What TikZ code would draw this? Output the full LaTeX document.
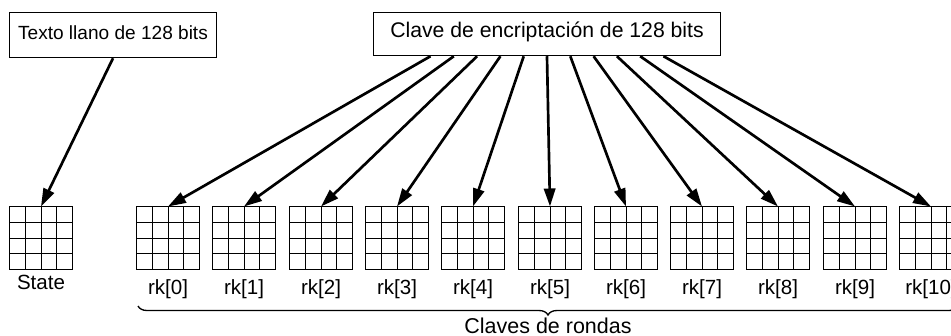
\documentclass[tikz,border=0pt]{standalone}
\usepackage{fontspec}
\setmainfont{Liberation Sans}
\usetikzlibrary{arrows.meta,calc,decorations.pathreplacing}
\begin{document}
\begin{tikzpicture}[x=0.75pt,y=-0.75pt,
  box/.style={draw, line width=1.1pt, inner sep=0pt},
  gridbox/.style={draw, line width=1pt, minimum size=47.25pt, inner sep=0pt, outer sep=0pt},
  cellline/.style={line width=1pt},
  arr/.style={line width=2pt, -{Triangle[length=13.5pt,width=8.5pt]}},
  lbl/.style={font=\fontsize{15.4}{18}\selectfont, anchor=base, inner sep=0pt}]
\useasboundingbox (0,0) rectangle (951,336);
\clip (0,0) rectangle (951,336);
\node[box, minimum width=155.25pt, minimum height=33.75pt, text height=10.5pt, text depth=4.5pt,
      font=\fontsize{14.3}{17}\selectfont] (plain) at (113,35) {Texto llano de 128 bits};
\node[box, minimum width=260.25pt, minimum height=32.25pt, text height=11.25pt, text depth=6.75pt,
      font=\fontsize{15.9}{19}\selectfont] (key) at (547,34) {Clave de encriptación de 128 bits};
\node[gridbox] (st) at (41,238) {};
\foreach \i/\cx in {0/168,1/244,2/321,3/397,4/473,5/550,6/626,7/702,8/778,9/855,10/931} {
  \node[gridbox] (g\i) at (\cx,238) {};
  \node[lbl] (l\i) at (\cx,294) {rk[\i]};
}
\foreach \nm in {st,g0,g1,g2,g3,g4,g5,g6,g7,g8,g9,g10} {
  \foreach \d in {16,32,47} {
    \draw[cellline] ($(\nm.north west)+(\d,0)$) -- ($(\nm.south west)+(\d,0)$);
    \draw[cellline] ($(\nm.north west)+(0,\d)$) -- ($(\nm.north east)+(0,\d)$);
  }
}
\node[lbl] (lst) at (41,289) {State};
\draw[arr] (plain.south) -- (st.north);
\foreach \i in {0,...,10} {
  \coordinate (s\i) at ($(key.south)+({(\i-5)*23.3},0)$);
  \draw[arr] (s\i) -- (g\i.north);
}
\coordinate (b1) at (138,306);
\coordinate (b2) at (958,306);
\draw[decorate, decoration={brace, mirror, amplitude=6.75pt}, line width=1pt] (b1) -- (b2);
\node[font=\fontsize{16.1}{19}\selectfont, anchor=base, inner sep=0pt] (claves) at (548,333) {Claves de rondas};
\end{tikzpicture}
\end{document}
